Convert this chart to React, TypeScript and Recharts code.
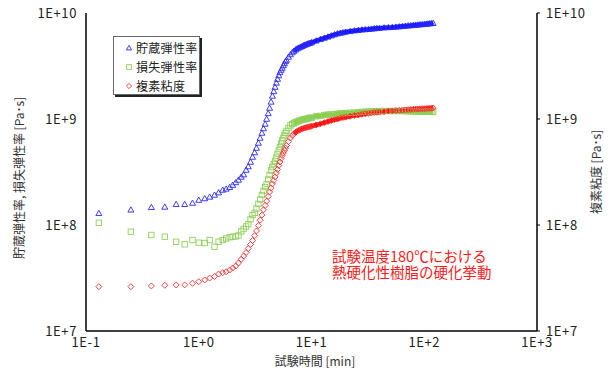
import React from 'react';
import { ComposedChart, Scatter, Line, XAxis, YAxis, Legend, Label } from 'recharts';

// 試験時間 [min]
const TIME_MIN = [
  0.13, 0.25, 0.38, 0.5, 0.63, 0.75, 0.88, 1.0, 1.13, 1.25, 1.38, 1.5,
  1.63, 1.75, 1.88, 2.0, 2.13, 2.25, 2.38, 2.5, 2.63, 2.75, 2.88, 3.0,
  3.13, 3.25, 3.38, 3.5, 3.63, 3.75, 3.88, 4.0, 4.13, 4.25, 4.38, 4.5,
  4.63, 4.75, 4.88, 5.0, 5.13, 5.25, 5.38, 5.5, 5.63, 5.75, 5.88, 6.0,
  6.25, 6.5, 6.75, 7.0, 7.25, 7.5, 7.75, 8.0, 8.25, 8.5, 8.75, 9.0, 9.25, 9.5, 9.75, 10,
  11, 12, 13, 14, 15, 16, 17, 18, 19, 20,
  22, 24, 26, 28, 30, 32, 34, 36, 38, 40,
  44, 48, 52, 56, 60, 64, 68, 72, 76, 80, 84, 88, 92, 96, 100, 104, 108, 112, 116, 120,
];

// 貯蔵弾性率 [Pa]
const STORAGE = [
  1.29e8, 1.39e8, 1.47e8, 1.48e8, 1.57e8, 1.57e8, 1.61e8, 1.72e8, 1.78e8, 1.84e8, 1.92e8, 2.02e8,
  2.14e8, 2.19e8, 2.27e8, 2.38e8, 2.52e8, 2.66e8, 2.84e8, 2.99e8, 3.3e8, 3.56e8, 3.93e8, 4.38e8,
  4.83e8, 5.32e8, 5.94e8, 6.62e8, 7.38e8, 8.13e8, 8.97e8, 1.0e9, 1.13e9, 1.27e9, 1.45e9, 1.65e9,
  1.82e9, 2.0e9, 2.19e9, 2.38e9, 2.57e9, 2.75e9, 2.9e9, 3.03e9, 3.2e9, 3.34e9, 3.49e9, 3.6e9,
  3.85e9, 4.06e9, 4.24e9, 4.38e9, 4.51e9, 4.62e9, 4.71e9, 4.78e9, 4.86e9, 4.94e9, 5.0e9, 5.07e9, 5.12e9, 5.18e9, 5.22e9, 5.27e9,
  5.47e9, 5.65e9, 5.81e9, 5.96e9, 6.11e9, 6.26e9, 6.38e9, 6.47e9, 6.55e9, 6.62e9,
  6.72e9, 6.81e9, 6.88e9, 6.95e9, 6.99e9, 7.03e9, 7.08e9, 7.13e9, 7.17e9, 7.2e9,
  7.27e9, 7.31e9, 7.34e9, 7.39e9, 7.44e9, 7.49e9, 7.54e9, 7.59e9, 7.62e9, 7.67e9,
  7.71e9, 7.74e9, 7.78e9, 7.81e9, 7.84e9, 7.88e9, 7.91e9, 7.95e9, 7.98e9, 8.02e9,
];

// 損失弾性率 [Pa]
const LOSS = [
  1.05e8, 8.65e7, 8.05e7, 7.76e7, 6.95e7, 6.57e7, 7.22e7, 6.81e7, 6.76e7, 7.22e7, 6.24e7, 6.95e7,
  7.22e7, 7.46e7, 7.66e7, 7.76e7, 7.8e7, 7.96e7, 8.69e7, 9.17e7, 9.68e7, 1.02e8, 1.13e8, 1.24e8,
  1.3e8, 1.43e8, 1.58e8, 1.74e8, 1.92e8, 2.09e8, 2.28e8, 2.44e8, 2.69e8, 2.96e8, 3.27e8, 3.52e8,
  3.76e8, 4.02e8, 4.33e8, 4.68e8, 5.05e8, 5.44e8, 5.87e8, 6.27e8, 6.62e8, 6.99e8, 7.38e8, 7.71e8,
  8.22e8, 8.69e8, 8.97e8, 9.17e8, 9.33e8, 9.47e8, 9.6e8, 9.72e8, 9.81e8, 9.89e8, 9.98e8, 1.0e9, 1.01e9, 1.02e9, 1.025e9, 1.03e9,
  1.06e9, 1.07e9, 1.09e9, 1.1e9, 1.105e9, 1.11e9, 1.12e9, 1.13e9, 1.135e9, 1.14e9,
  1.146e9, 1.15e9, 1.16e9, 1.167e9, 1.17e9, 1.175e9, 1.18e9, 1.183e9, 1.186e9, 1.19e9,
  1.19e9, 1.19e9, 1.19e9, 1.19e9, 1.19e9, 1.188e9, 1.186e9, 1.184e9, 1.182e9, 1.18e9,
  1.178e9, 1.176e9, 1.175e9, 1.173e9, 1.172e9, 1.17e9, 1.17e9, 1.168e9, 1.167e9, 1.165e9,
];

// 複素粘度 [Pa･s]
const VISCOSITY = [
  2.62e7, 2.62e7, 2.66e7, 2.7e7, 2.72e7, 2.72e7, 2.82e7, 2.92e7, 3.03e7, 3.16e7, 3.27e7, 3.45e7,
  3.55e7, 3.62e7, 3.76e7, 3.93e7, 4.1e7, 4.38e7, 4.75e7, 5.1e7, 5.5e7, 6.0e7, 6.55e7, 7.14e7,
  7.93e7, 8.78e7, 9.89e7, 1.11e8, 1.24e8, 1.39e8, 1.53e8, 1.68e8, 1.86e8, 2.05e8, 2.23e8, 2.44e8,
  2.63e8, 2.84e8, 3.1e8, 3.34e8, 3.64e8, 3.93e8, 4.24e8, 4.53e8, 4.78e8, 5.05e8, 5.32e8, 5.62e8,
  6.11e8, 6.62e8, 6.99e8, 7.3e8, 7.5e8, 7.71e8, 7.84e8, 7.96e8, 8.07e8, 8.17e8, 8.24e8, 8.32e8, 8.39e8, 8.44e8, 8.5e8, 8.55e8,
  8.78e8, 9.01e8, 9.25e8, 9.47e8, 9.68e8, 9.87e8, 1.0e9, 1.02e9, 1.03e9, 1.04e9,
  1.06e9, 1.08e9, 1.09e9, 1.11e9, 1.12e9, 1.13e9, 1.14e9, 1.15e9, 1.156e9, 1.16e9,
  1.17e9, 1.19e9, 1.193e9, 1.2e9, 1.21e9, 1.214e9, 1.22e9, 1.225e9, 1.23e9, 1.235e9,
  1.24e9, 1.24e9, 1.245e9, 1.25e9, 1.25e9, 1.255e9, 1.26e9, 1.26e9, 1.265e9, 1.27e9,
];

const X_TICKS = [0.1, 1, 10, 100, 1000];
const X_MINOR = [
  0.2, 0.3, 0.4, 0.5, 0.6, 0.7, 0.8, 0.9,
  2, 3, 4, 5, 6, 7, 8, 9,
  20, 30, 40, 50, 60, 70, 80, 90,
  200, 300, 400, 500, 600, 700, 800, 900,
];
const Y_TICKS = [1e7, 1e8, 1e9, 1e10];
const Y_MINOR = [
  2e7, 3e7, 4e7, 5e7, 6e7, 7e7, 8e7, 9e7,
  2e8, 3e8, 4e8, 5e8, 6e8, 7e8, 8e8, 9e8,
  2e9, 3e9, 4e9, 5e9, 6e9, 7e9, 8e9, 9e9,
];

const SERIES_NAMES = ['貯蔵弾性率', '損失弾性率', '複素粘度'];
const NOTE = '試験温度180℃における\n熱硬化性樹脂の硬化挙動';

const FONT = "'Noto Sans CJK JP', 'Noto Sans', sans-serif";
const X_DOMAIN: [number, number] = [0.1, 1000];
const Y_DOMAIN: [number, number] = [1e7, 1e10];
const DENSE_FROM = 7;

type Kind = 'tri' | 'sq' | 'dia';

const SERIES: { name: string; values: number[]; kind: Kind; marker: string; band: string }[] = [
  { name: SERIES_NAMES[0], values: STORAGE, kind: 'tri', marker: '#2a2aff', band: '#1010ff' },
  { name: SERIES_NAMES[1], values: LOSS, kind: 'sq', marker: '#8fd05a', band: '#88cc48' },
  { name: SERIES_NAMES[2], values: VISCOSITY, kind: 'dia', marker: '#ff3030', band: '#ff0a0a' },
];

const fmtExp = (v: number) => {
  const e = Math.round(Math.log10(v));
  return `1E${e < 0 ? '-' : '+'}${Math.abs(e)}`;
};

const Marker = ({ cx, cy, kind, color, r = 3 }: { cx: number; cy: number; kind: Kind; color: string; r?: number }) => {
  if (kind === 'tri') {
    return (
      <polygon
        points={`${cx},${cy - r} ${cx + r},${cy + r * 0.75} ${cx - r},${cy + r * 0.75}`}
        fill="none" stroke={color} strokeWidth={0.9}
      />
    );
  }
  if (kind === 'sq') {
    return <rect x={cx - r * 0.9} y={cy - r * 0.9} width={r * 1.8} height={r * 1.8} fill="none" stroke={color} strokeWidth={0.9} />;
  }
  return (
    <polygon
      points={`${cx},${cy - r} ${cx + r},${cy} ${cx},${cy + r} ${cx - r},${cy}`}
      fill="none" stroke={color} strokeWidth={0.9}
    />
  );
};

const LegendBox = () => (
  <div
    style={{
      width: 87, height: 59, background: '#fff', border: '1px solid #666',
      boxShadow: '2px 2px 0 #222', fontFamily: FONT, fontSize: 12, color: '#222',
      paddingTop: 1, boxSizing: 'border-box',
    }}
  >
    {SERIES.map(s => (
      <div key={s.name} style={{ height: 19, display: 'flex', alignItems: 'center', paddingLeft: 11 }}>
        <svg width={8} height={8} style={{ marginRight: 3 }}>
          <Marker cx={4} cy={4} kind={s.kind} color={s.marker} r={2.6} />
        </svg>
        <span style={{ letterSpacing: 0.3, lineHeight: '14px' }}>{s.name}</span>
      </div>
    ))}
  </div>
);

const tickStyle = { fontSize: 13, fill: '#222', fontFamily: FONT, letterSpacing: 0.6 };
const frame = { stroke: '#000', strokeWidth: 1.5 };

export default function App() {
  const data = SERIES.map(s => TIME_MIN.map((t, i) => ({ t, v: s.values[i] })));

  return (
    <div style={{ position: 'absolute', left: 0, top: 0, width: 614, height: 374, background: '#fff' }}>
      <ComposedChart width={614} height={374} margin={{ top: 13, right: 10, bottom: 10, left: 10 }}>
        <XAxis
          xAxisId="x" dataKey="t" type="number" scale="log" domain={X_DOMAIN} allowDataOverflow
          ticks={X_TICKS} interval={0} tickFormatter={fmtExp} height={33}
          tickLine={false} tickSize={0} tickMargin={7} axisLine={frame} tick={tickStyle}
        >
          <Label
            content={({ viewBox }: any) => (
              <text x={viewBox.x + 229} y={366} textAnchor="middle" fontFamily={FONT} fontSize={12} fill="#333">
                試験時間 [min]
              </text>
            )}
          />
        </XAxis>
        <XAxis
          xAxisId="xMajor" type="number" scale="log" domain={X_DOMAIN} allowDataOverflow mirror height={0}
          ticks={X_TICKS} interval={0} tick={false} tickSize={5} axisLine={false} tickLine={{ stroke: '#000' }}
        />
        <XAxis
          xAxisId="xMinor" type="number" scale="log" domain={X_DOMAIN} allowDataOverflow mirror height={0}
          ticks={X_MINOR} interval={0} tick={false} tickSize={3} axisLine={false} tickLine={{ stroke: '#000' }}
        />
        <XAxis
          xAxisId="xTop" orientation="top" type="number" scale="log" domain={X_DOMAIN} allowDataOverflow height={0}
          ticks={X_TICKS} tick={false} tickLine={false} axisLine={frame}
        />
        <YAxis
          yAxisId="y" dataKey="v" type="number" scale="log" domain={Y_DOMAIN} allowDataOverflow
          ticks={Y_TICKS} interval={0} tickFormatter={fmtExp} width={76}
          tickLine={false} tickSize={0} tickMargin={9} axisLine={frame} tick={tickStyle}
        >
          <Label
            content={({ viewBox }: any) => {
              const x = viewBox.x + 8;
              const y = viewBox.y + viewBox.height / 2 + 6;
              return (
                <text x={x} y={y} transform={`rotate(-90 ${x} ${y})`} textAnchor="middle" dominantBaseline="central"
                  fontFamily={FONT} fontSize={12} fill="#333">
                  貯蔵弾性率, 損失弾性率 [Pa･s]
                </text>
              );
            }}
          />
        </YAxis>
        <YAxis
          yAxisId="yMajor" type="number" scale="log" domain={Y_DOMAIN} allowDataOverflow mirror width={0}
          ticks={Y_TICKS} interval={0} tick={false} tickSize={5} axisLine={false} tickLine={{ stroke: '#000' }}
        />
        <YAxis
          yAxisId="yMinor" type="number" scale="log" domain={Y_DOMAIN} allowDataOverflow mirror width={0}
          ticks={Y_MINOR} interval={0} tick={false} tickSize={3} axisLine={false} tickLine={{ stroke: '#000' }}
        />
        <YAxis
          yAxisId="yRight" orientation="right" type="number" scale="log" domain={Y_DOMAIN} allowDataOverflow
          ticks={Y_TICKS} interval={0} tickFormatter={fmtExp} width={67}
          tickSize={3} tickMargin={6} axisLine={frame} tickLine={{ stroke: '#000' }} tick={tickStyle}
        >
          <Label
            content={({ viewBox }: any) => {
              const x = viewBox.x + 58;
              const y = viewBox.y + viewBox.height / 2;
              return (
                <text x={x} y={y} transform={`rotate(-90 ${x} ${y})`} textAnchor="middle" dominantBaseline="central"
                  fontFamily={FONT} fontSize={12} fill="#333">
                  複素粘度 [Pa･s]
                </text>
              );
            }}
          />
        </YAxis>

        {SERIES.map((s, k) => (
          <Scatter
            key={`sc-${s.name}`}
            name={s.name}
            data={data[k]}
            dataKey="v"
            xAxisId="x"
            yAxisId="y"
            isAnimationActive={false}
            shape={(p: any) => <Marker cx={p.cx} cy={p.cy} kind={s.kind} color={s.marker} />}
          />
        ))}
        {SERIES.map((s, k) => (
          <Line
            key={`ln-${s.name}`}
            data={data[k].filter(d => d.t >= DENSE_FROM)}
            dataKey="v"
            xAxisId="x"
            yAxisId="y"
            type="linear"
            stroke={s.band}
            strokeWidth={4.5}
            dot={false}
            activeDot={false}
            legendType="none"
            isAnimationActive={false}
          />
        ))}

        <Legend
          layout="vertical" align="center" verticalAlign="middle"
          wrapperStyle={{ left: 113, top: 36, width: 'auto', height: 'auto' }}
          content={() => <LegendBox />}
        />
      </ComposedChart>

      <div
        style={{
          position: 'absolute', left: 332, top: 248, fontFamily: FONT, fontSize: 14.5,
          lineHeight: '16px', color: '#ff1a1a', whiteSpace: 'pre-line',
        }}
      >
        {NOTE}
      </div>
    </div>
  );
}
